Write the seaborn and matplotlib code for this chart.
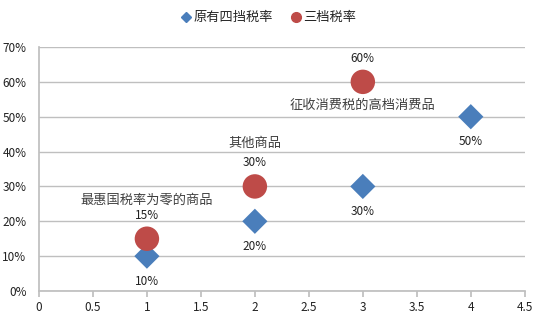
import matplotlib
matplotlib.use("Agg")
import matplotlib.pyplot as plt
import seaborn as sns
import pandas as pd
from matplotlib.ticker import PercentFormatter, MultipleLocator
from matplotlib.lines import Line2D

# Data
series_names = ["原有四挡税率", "三档税率"]
old_x = [1, 2, 3, 4]
old_y = [0.10, 0.20, 0.30, 0.50]
new_x = [1, 2, 3]
new_y = [0.15, 0.30, 0.60]
group_names = ["最惠国税率为零的商品", "其他商品", "征收消费税的高档消费品"]

df = pd.DataFrame({
    "x": old_x + new_x,
    "y": old_y + new_y,
    "series": [series_names[0]] * len(old_x) + [series_names[1]] * len(new_x),
})

sns.set_theme(style="white")
plt.rcParams["font.family"] = ["Noto Sans CJK SC", "DejaVu Sans"]

fig = plt.figure(figsize=(5.41, 3.25), dpi=100)
ax = fig.add_axes([0.072, 0.1046, 0.898, 0.7508])

blue = "#4A7EBB"
red = "#BE4B48"
sns.scatterplot(data=df, x="x", y="y", hue="series", style="series",
                palette={series_names[0]: blue, series_names[1]: red},
                markers={series_names[0]: "D", series_names[1]: "o"},
                size="series", sizes={series_names[0]: 165, series_names[1]: 310},
                edgecolor="none", linewidth=0, ax=ax, legend=False, zorder=3)

ax.set_xlim(0, 4.5)
ax.set_ylim(0, 0.70)
ax.xaxis.set_major_locator(MultipleLocator(0.5))
ax.yaxis.set_major_locator(MultipleLocator(0.10))
ax.yaxis.set_major_formatter(PercentFormatter(1.0, decimals=0))
ax.xaxis.set_major_formatter(matplotlib.ticker.FuncFormatter(lambda v, p: f"{v:g}"))
ax.set_xlabel("")
ax.set_ylabel("")
ax.grid(axis="y", color="#BFBFBF", linewidth=1.0)
ax.set_axisbelow(True)
for s in ["top", "right"]:
    ax.spines[s].set_visible(False)
ax.spines["left"].set_color("#BFBFBF")
ax.spines["bottom"].set_color("#BFBFBF")
ax.tick_params(axis="x", which="major", bottom=True, length=4, color="#BFBFBF",
               labelsize=8.5, pad=3, labelcolor="#222222")
ax.tick_params(axis="y", which="major", left=False, labelsize=8.5, pad=3, labelcolor="#222222")

# Data labels
for x, y in zip(old_x, old_y):
    ax.annotate(f"{y*100:.0f}%", (x, y), xytext=(0, -18), textcoords="offset points",
                ha="center", va="center", fontsize=8.5, color="#222222")
for x, y in zip(new_x, new_y):
    ax.annotate(f"{y*100:.0f}%", (x, y), xytext=(0, 17), textcoords="offset points",
                ha="center", va="center", fontsize=8.5, color="#222222")

# Group annotations near the red points
group_offsets = [28, 31, -17]
for x, y, name, off in zip(new_x, new_y, group_names, group_offsets):
    ax.annotate(name, (x, y), xytext=(0, off), textcoords="offset points",
                ha="center", va="center", fontsize=9.5, color="#404040")

# Legend
handles = [Line2D([], [], marker="D", color=blue, linestyle="none", markersize=5),
           Line2D([], [], marker="o", color=red, linestyle="none", markersize=7)]
fig.legend(handles, series_names, loc="center", bbox_to_anchor=(0.495, 0.945), ncol=2,
           frameon=False, fontsize=9.5, handletextpad=0.1, columnspacing=1.2,
           handlelength=1.0)

fig.savefig("out.png", dpi=100)
